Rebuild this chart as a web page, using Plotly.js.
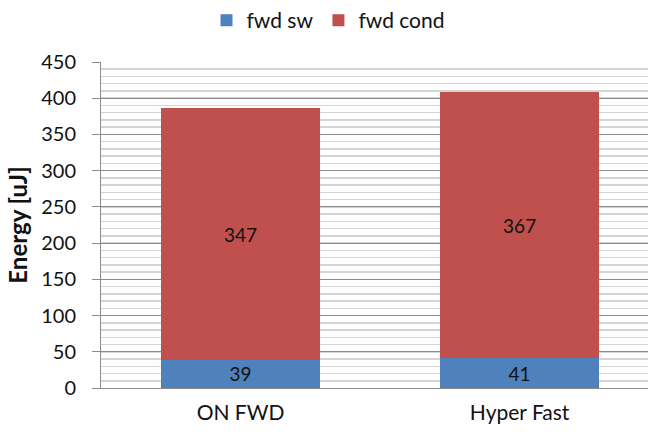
<!DOCTYPE html>
<html>
<head>
<meta charset="utf-8">
<script src="https://cdn.plot.ly/plotly-3.0.1.min.js"></script>
<style>html,body{margin:0;padding:0;background:#fff;}#chart{width:648px;height:433px;}</style>
</head>
<body>
<div id="chart"></div>
<script>
const categories = ["ON FWD", "Hyper Fast"];
const fwdSw = [39, 41];
const fwdCond = [347, 367];
const yTickVals = [0, 50, 100, 150, 200, 250, 300, 350, 400, 450];

const FONT = "Lato, 'Open Sans', sans-serif";

const traces = [
  {
    type: "bar", name: "fwd sw", x: categories, y: fwdSw,
    text: fwdSw.map(String), textposition: "inside", insidetextanchor: "middle",
    constraintext: "none", textangle: 0,
    textfont: {family: FONT, size: 19, color: "#111"},
    marker: {color: "#4F81BD", line: {width: 0}},
    hoverinfo: "none"
  },
  {
    type: "bar", name: "fwd cond", x: categories, y: fwdCond,
    text: fwdCond.map(String), textposition: "inside", insidetextanchor: "middle",
    constraintext: "none", textangle: 0,
    textfont: {family: FONT, size: 19, color: "#111"},
    marker: {color: "#C0504D", line: {width: 0}},
    hoverinfo: "none"
  }
];

const layout = {
  width: 648, height: 433,
  margin: {l: 101, r: 0, t: 62, b: 45, pad: 0},
  paper_bgcolor: "#fff", plot_bgcolor: "#fff",
  barmode: "stack", bargap: 0.43,
  font: {family: FONT, size: 20, color: "#111"},
  showlegend: true,
  legend: {
    orientation: "h", x: 0.415, xanchor: "center", y: 1.19, yanchor: "top",
    font: {family: FONT, size: 21, color: "#111"},
    traceorder: "normal", itemwidth: 30
  },
  xaxis: {
    type: "category", range: [-0.5, 1.46],
    showline: true, linecolor: "#8c8c8c", linewidth: 1,
    ticks: "", showgrid: false, zeroline: false,
    ticklabelstandoff: 6,
    tickfont: {family: FONT, size: 21, color: "#111"},
    fixedrange: true
  },
  yaxis: {
    range: [0, 450], tickvals: yTickVals, ticktext: yTickVals.map(String),
    showline: true, linecolor: "#8c8c8c", linewidth: 1,
    ticks: "outside", ticklen: 8, tickcolor: "#8c8c8c", tickwidth: 1,
    ticklabelstandoff: 12,
    showgrid: true, gridcolor: "#8c8c8c", gridwidth: 1,
    zeroline: false,
    minor: {dtick: 10, showgrid: true, gridcolor: "#d4d4d4", gridwidth: 1.5, ticks: ""},
    tickfont: {family: FONT, size: 20, color: "#111"},
    title: {text: "Energy [uJ]", font: {family: FONT, size: 24, color: "#111", weight: "bold"}, standoff: 6},
    fixedrange: true
  }
};

Plotly.newPlot("chart", traces, layout, {displayModeBar: false, staticPlot: true});
</script>
</body>
</html>
